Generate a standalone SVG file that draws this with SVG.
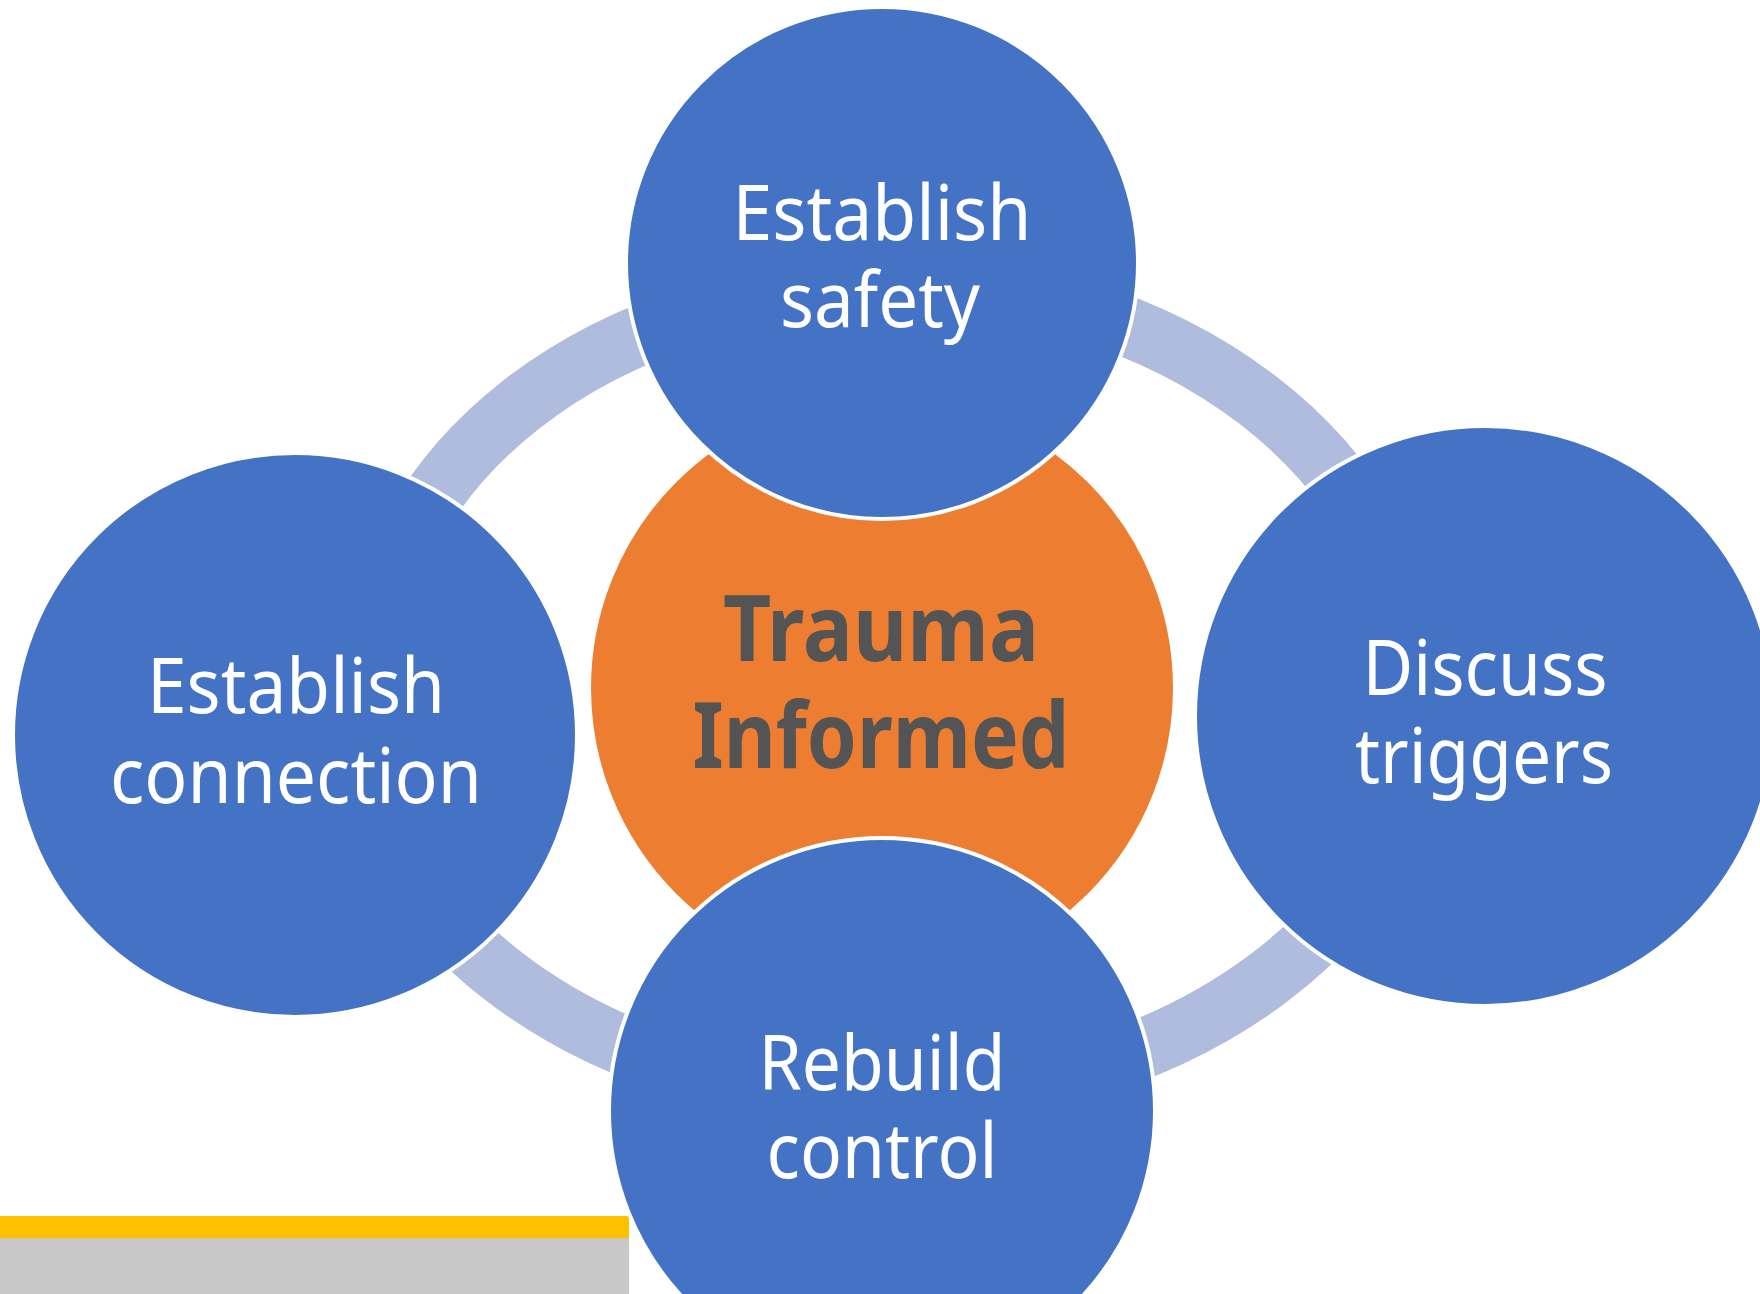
<svg xmlns="http://www.w3.org/2000/svg" width="1760" height="1294" viewBox="0 0 1760 1294">
  <style>
    .ring { fill: none; stroke: #AFBCDE; stroke-width: 60; }
    .node { fill: #4472C4; stroke: #FFFFFF; stroke-width: 4; }
    .hub { fill: #ED7D31; stroke: #FFFFFF; stroke-width: 4; }
    .label { font-family: "Segoe UI", "Noto Sans", "Open Sans", sans-serif; font-size: 76px; fill: #FFFFFF; text-anchor: middle; }
    .hub-label { font-family: "Segoe UI", "Noto Sans", "Open Sans", sans-serif; font-size: 92px; font-weight: bold; fill: #545454; text-anchor: middle; }
  </style>
  <defs>
    <clipPath id="q-tl"><rect x="0" y="0" width="884" height="690"/></clipPath>
    <clipPath id="q-tr"><rect x="884" y="0" width="876" height="690"/></clipPath>
    <clipPath id="q-bl"><rect x="0" y="690" width="884" height="604"/></clipPath>
    <clipPath id="q-br"><rect x="884" y="690" width="876" height="604"/></clipPath>
  </defs>

  <rect x="0" y="0" width="1760" height="1294" fill="#FFFFFF"/>

  <!-- footer bars -->
  <rect x="0" y="1216" width="629" height="22" fill="#FFC000"/>
  <rect x="0" y="1238" width="629" height="56" fill="#C8C8C8"/>

  <!-- cycle connectors: one ring quarter per quadrant -->
  <g id="connectors">
    <ellipse class="ring" cx="884" cy="690" rx="514" ry="403" clip-path="url(#q-tl)"/>
    <ellipse class="ring" cx="884" cy="690" rx="530" ry="409" clip-path="url(#q-tr)"/>
    <ellipse class="ring" cx="884" cy="690" rx="535" ry="407" clip-path="url(#q-bl)"/>
    <ellipse class="ring" cx="884" cy="690" rx="543" ry="408" clip-path="url(#q-br)"/>
  </g>

  <g id="hub">
    <circle class="hub" cx="882" cy="688" r="293"/>
    <text class="hub-label" x="881" y="661" textLength="316" lengthAdjust="spacingAndGlyphs">Trauma</text>
    <text class="hub-label" x="881" y="768" textLength="377" lengthAdjust="spacingAndGlyphs">Informed</text>
  </g>

  <g id="node-safety">
    <circle class="node" cx="882" cy="263" r="256"/>
    <text class="label" x="882" y="240" textLength="299" lengthAdjust="spacingAndGlyphs">Establish</text>
    <text class="label" x="880" y="327" textLength="200" lengthAdjust="spacingAndGlyphs">safety</text>
  </g>

  <g id="node-connection">
    <circle class="node" cx="295" cy="735" r="282"/>
    <text class="label" x="296" y="713" textLength="298" lengthAdjust="spacingAndGlyphs">Establish</text>
    <text class="label" x="296" y="803" textLength="372" lengthAdjust="spacingAndGlyphs">connection</text>
  </g>

  <g id="node-triggers">
    <circle class="node" cx="1485" cy="716" r="290"/>
    <text class="label" x="1485" y="695" textLength="245" lengthAdjust="spacingAndGlyphs">Discuss</text>
    <text class="label" x="1484" y="783" textLength="258" lengthAdjust="spacingAndGlyphs">triggers</text>
  </g>

  <g id="node-control">
    <circle class="node" cx="882" cy="1111" r="273"/>
    <text class="label" x="882" y="1090" textLength="247" lengthAdjust="spacingAndGlyphs">Rebuild</text>
    <text class="label" x="882" y="1178" textLength="231" lengthAdjust="spacingAndGlyphs">control</text>
  </g>
</svg>
